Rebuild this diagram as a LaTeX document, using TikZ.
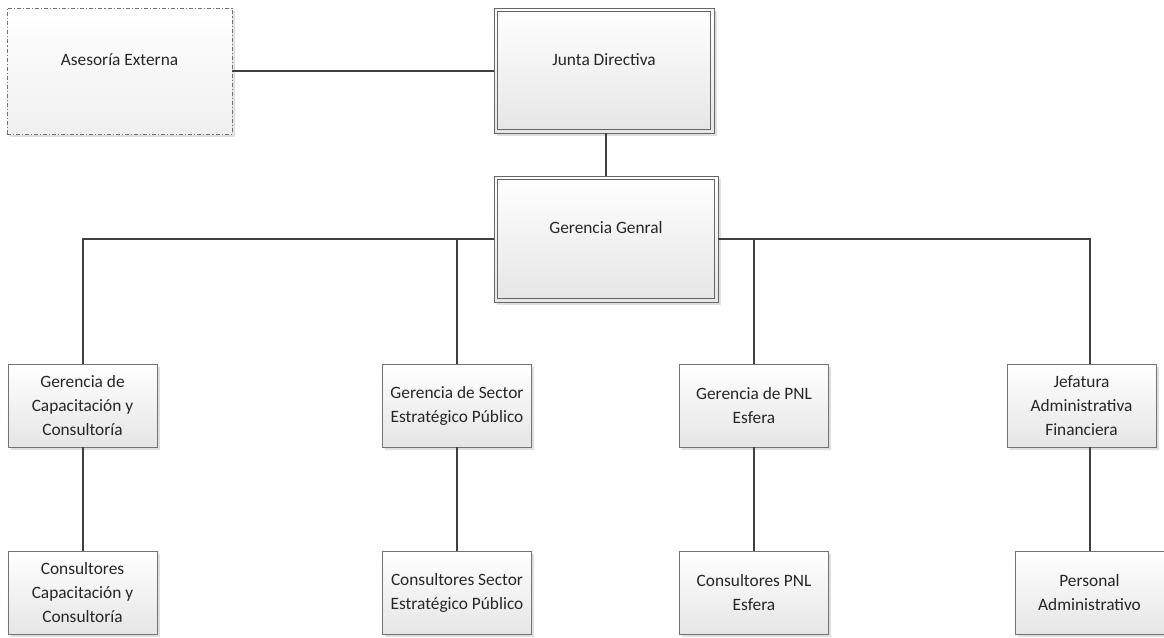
\documentclass[tikz,border=0pt]{standalone}
\usepackage{fontspec}
\setmainfont{Carlito}
\usetikzlibrary{positioning, shadows}

\begin{document}
\begin{tikzpicture}[
  x=0.75pt, y=-0.75pt,
  every node/.style={font=\fontsize{13}{18}\selectfont, text=black!85},
  box/.style={draw=black!55, minimum width=112pt, minimum height=62pt,
              align=center, inner sep=2pt, top color=white, bottom color=black!10,
              drop shadow={shadow xshift=2pt, shadow yshift=-2pt, fill=black!25, opacity=0.5}},
  bigbox/.style={box, draw=black!60, minimum width=165pt, minimum height=93.75pt,
                 text depth=17pt},
  ext/.style={box, draw=black!55, dash pattern=on 3pt off 1.5pt on 0.8pt off 1.5pt,
              minimum width=168.75pt, minimum height=94.5pt, text depth=17pt,
              bottom color=black!6},
  inner/.style={draw=black!60},
  link/.style={draw=black!75, line width=1.5pt},
]
  \useasboundingbox (0, 0) rectangle (1164, 637);

  \node[ext] (ase) at (119.5, 71) {Asesoría Externa};
  \node[bigbox] (junta) at (604, 70.5) {Junta Directiva};
  \node[bigbox, minimum width=168pt, minimum height=94.5pt] (gg) at (606, 239) {Gerencia Genral};
  \draw[inner] ([shift={(3pt,-3pt)}]junta.north west) rectangle ([shift={(-3pt,3pt)}]junta.south east);
  \draw[inner] ([shift={(3pt,-3pt)}]gg.north west) rectangle ([shift={(-3pt,3pt)}]gg.south east);

  \node[box] (g1) at (82.5, 405.5) {Gerencia de\\Capacitación y\\Consultoría};
  \node[box] (g2) at (457, 405.5) {Gerencia de Sector\\Estratégico Público};
  \node[box] (g3) at (754, 405.5) {Gerencia de PNL\\Esfera};
  \node[box] (g4) at (1081.5, 405.5) {Jefatura\\Administrativa\\Financiera};

  \node[box] (c1) at (82.5, 593) {Consultores\\Capacitación y\\Consultoría};
  \node[box] (c2) at (457, 593) {Consultores Sector\\Estratégico Público};
  \node[box] (c3) at (754, 593) {Consultores PNL\\Esfera};
  \node[box] (c4) at (1089.5, 593) {Personal\\Administrativo};

  \draw[link] (ase.east) -- (ase.east -| junta.west);
  \draw[link] (junta.south -| gg.north) -- (gg.north);

  \draw[link] (gg.west) -| (g1.north);
  \draw[link] (gg.west -| g2.north) -- (g2.north);
  \draw[link] (gg.east) -| (c4.north |- g4.north);
  \draw[link] (gg.east -| g3.north) -- (g3.north);

  \draw[link] (g1) -- (c1);
  \draw[link] (g2) -- (c2);
  \draw[link] (g3) -- (c3);
  \draw[link] (g4.south -| c4.north) -- (c4.north);
\end{tikzpicture}
\end{document}
